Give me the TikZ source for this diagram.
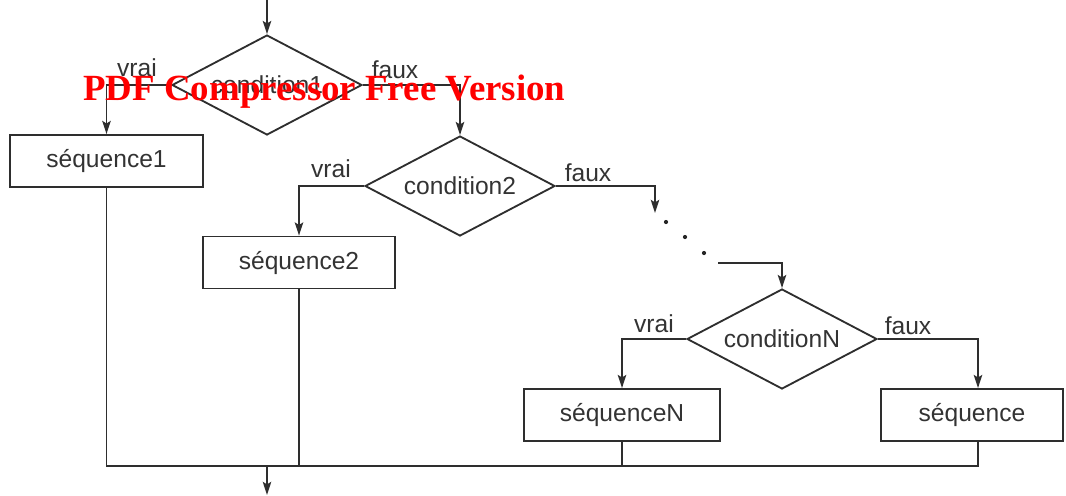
\documentclass[tikz,border=0pt]{standalone}
\usepackage{fontspec}
\setmainfont{Liberation Sans}
\newfontfamily\stampfont{Liberation Serif}
\usetikzlibrary{shapes.geometric,arrows.meta}
\begin{document}
\begin{tikzpicture}[x=0.02cm,y=-0.02cm,
  line/.style={draw=black!82, line width=1.05pt},
  arr/.style={line, -{Stealth[length=7.5pt,width=4.8pt,inset=1.5pt]}},
  txt/.style={font=\fontsize{14}{16}\selectfont, text=black!80},
  cond/.style={diamond, txt, draw=black!82, line width=1.05pt, aspect=1.9,
    minimum width=3.8cm, minimum height=2cm, inner sep=0pt},
  seq/.style={rectangle, txt, draw=black!82, line width=1.05pt,
    minimum height=1.04cm, inner sep=0pt},
  lbl/.style={txt, inner sep=0pt, anchor=base}]
\useasboundingbox (0,0) rectangle (1066,495);

% decisions
\node[cond] (d1) at (267,85) {condition1};
\node[cond] (d2) at (460,186) {condition2};
\node[cond] (dN) at (782,339) {conditionN};

% sequences
\node[seq, minimum width=3.86cm] (b1) at (106.5,161) {séquence1};
\node[seq, minimum width=3.84cm] (b2) at (299,262.5) {séquence2};
\node[seq, minimum width=3.92cm] (bN) at (622,415) {séquenceN};
\node[seq, minimum width=3.64cm] (bS) at (972,415) {séquence};

% routing points
\coordinate (in) at (267,0);
\coordinate (out) at (267,495);
\coordinate (merge) at (267,466);
\coordinate (colS) at (978,466);
\coordinate (gap1) at (655,213);
\coordinate (gap2) at (718,263);

% branch labels
\node[lbl] (v1) at (137,76) {vrai};
\node[lbl] (f1) at (395,78) {faux};
\node[lbl] (v2) at (331,177) {vrai};
\node[lbl] (f2) at (588,181) {faux};
\node[lbl] (vN) at (654,332) {vrai};
\node[lbl] (fN) at (908,334) {faux};

% flow
\draw[arr] (in) -- (d1.north);
\draw[arr] (d1.west) -| (b1.north);
\draw[arr] (d1.east) -| (d2.north);
\draw[arr] (d2.west) -| (b2.north);
\draw[arr] (d2.east) -| (gap1);
\draw[arr] (gap2) -| (dN.north);
\draw[arr] (dN.west) -| (bN.north);
\draw[arr] (dN.east) -| (bS.north -| colS);

% ellipsis between the middle conditions
\fill[black!85] (666,222) circle (1.2pt);
\fill[black!85] (685,237) circle (1.2pt);
\fill[black!85] (704,253) circle (1.2pt);

% merge of all branches
\draw[line] (b1.south) -- (b1.south |- merge) -- (colS) -- (bS.south -| colS);
\draw[line] (b2.south) -- (b2.south |- merge);
\draw[line] (bN.south) -- (bN.south |- merge);
\draw[arr] (merge) -- (out);

% stamp
\node[anchor=base west, inner sep=0pt, text=red,
  font=\stampfont\bfseries\fontsize{21}{24}\selectfont] (stamp) at (83,100)
  {PDF Compressor Free Version};
\end{tikzpicture}
\end{document}
